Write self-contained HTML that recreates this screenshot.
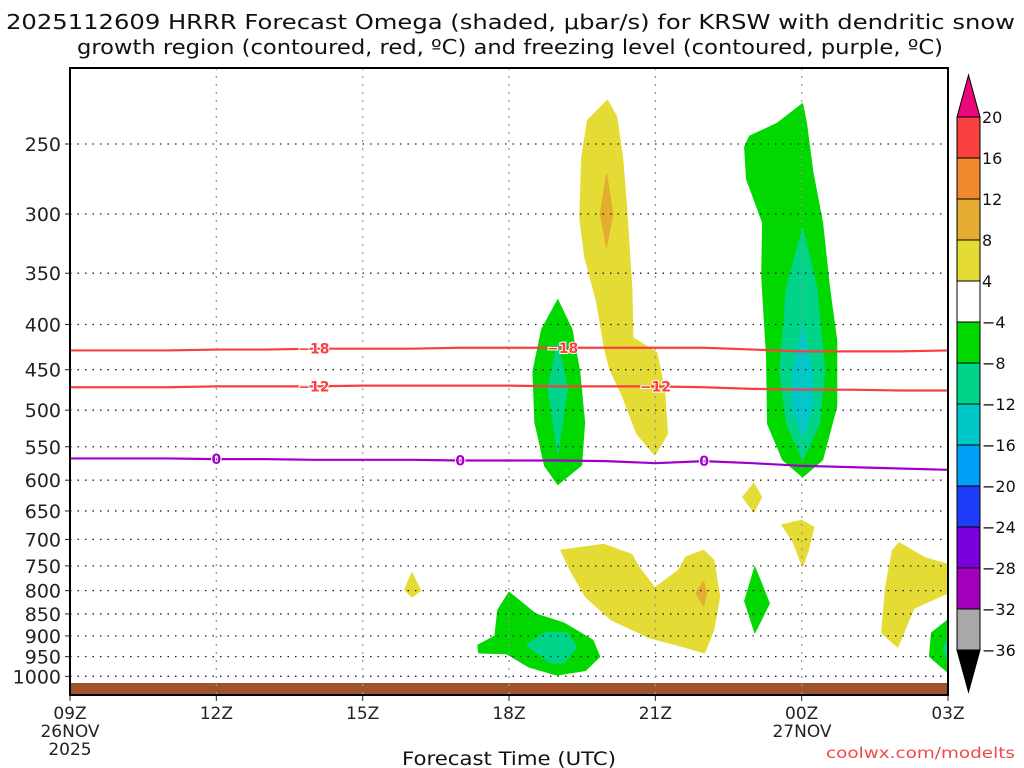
<!DOCTYPE html>
<html><head><meta charset="utf-8">
<style>
html,body{margin:0;padding:0;background:#fff;}
svg{display:block;font-family:"DejaVu Sans","Liberation Sans",sans-serif;}
</style></head>
<body>
<svg id="chart" width="1024" height="768" viewBox="0 0 1024 768" xmlns="http://www.w3.org/2000/svg">
<rect x="0" y="0" width="1024" height="768" fill="#fff"/>
<g font-size="20" fill="#111">
<text x="6" y="29" textLength="1009" lengthAdjust="spacingAndGlyphs">2025112609 HRRR Forecast Omega (shaded, μbar/s) for KRSW with dendritic snow</text>
<text x="77" y="54" textLength="866" lengthAdjust="spacingAndGlyphs">growth region (contoured, red, ºC) and freezing level (contoured, purple, ºC)</text>
</g>
<g id="shade"></g>
<g id="grid"></g>
<g id="lines"></g>
<g id="axes"></g>
<g id="cbar"></g>
<text x="402" y="765" font-size="19" fill="#111" textLength="214" lengthAdjust="spacingAndGlyphs">Forecast Time (UTC)</text>
<text x="826" y="758" font-size="15" fill="#f04848" textLength="189" lengthAdjust="spacingAndGlyphs">coolwx.com/modelts</text>
</svg>
<script>
// ---- data ----
const xTickLabels = ["09Z","12Z","15Z","18Z","21Z","00Z","03Z"];
const xTickHours = [0,3,6,9,12,15,18];
const pressureTicks = [250,300,350,400,450,500,550,600,650,700,750,800,850,900,950,1000];
const lineHours = [0,1,2,3,4,5,6,7,8,9,10,11,12,13,14,15,16,17,18];
const minus18 = [428,428,428,427,427,426,426,426,425,425,425,425,425,425,427,429,429,429,428];
const minus12 = [471,471,471,470,470,470,469,469,469,469,470,470,470,471,473,474,474,475,475];
const zeroLine = [567,567,567,568,568,569,569,569,570,570,570,571,574,571,574,578,580,582,584];
const cbarLevels = ["20","16","12","8","4","−4","−8","−12","−16","−20","−24","−28","−32","−36"];
const cbarColors = ["#f84040","#f0882c","#e4ac30","#e4dc34","#ffffff","#00d800","#00d488","#00c8c8","#00a0f8","#1c3cf8","#7800dc","#a400bc","#a8a8a8"];
// shaded regions: [color, [[hour, pressure], ...]]
const regions = [
 ["#e4dc34",[[11.02,223],[10.61,235],[10.49,259],[10.45,303],[10.55,335],[10.8,378],[10.96,427],[11.07,450],[11.33,483],[11.62,532],[11.99,562],[12.25,532],[12.19,474],[12.03,430],[11.54,414],[11.52,365],[11.41,294],[11.33,259],[11.21,233]]],
 ["#e4ac30",[[11.0,270],[11.13,300],[11.0,327],[10.87,300]]],
 ["#00d800",[[10.0,375],[9.67,405],[9.49,452],[9.53,516],[9.73,578],[10.0,607],[10.49,577],[10.55,516],[10.45,452],[10.29,405]]],
 ["#00d488",[[10.0,419],[9.8,472],[10.0,560],[10.2,472]]],
 ["#00d800",[[15.02,225],[14.49,237],[13.93,245],[13.83,252],[13.87,274],[14.2,307],[14.18,353],[14.28,435],[14.3,518],[14.61,569],[15.02,595],[15.43,569],[15.72,495],[15.72,417],[15.57,363],[15.43,307],[15.23,269],[15.1,237]]],
 ["#00d488",[[15.02,311],[14.69,363],[14.55,452],[14.69,518],[15.02,569],[15.37,518],[15.47,452],[15.31,363]]],
 ["#00c8c8",[[15.02,403],[14.82,452],[14.8,495],[15.02,536],[15.23,495],[15.23,452]]],
 ["#e4dc34",[[14.02,605],[13.79,627],[14.02,652],[14.18,627]]],
 ["#e4dc34",[[14.59,674],[15.0,666],[15.25,678],[15.14,719],[15.02,752],[14.82,704]]],
 ["#e4dc34",[[7.01,763],[6.86,798],[7.01,813],[7.19,800]]],
 ["#e4dc34",[[10.06,720],[10.94,709],[11.52,728],[11.66,752],[11.99,794],[12.48,758],[12.62,733],[12.99,720],[13.2,739],[13.32,813],[13.2,886],[13.01,941],[12.48,923],[11.89,905],[11.09,863],[10.57,813],[10.25,758]]],
 ["#e4ac30",[[12.99,781],[12.83,805],[12.99,833],[13.05,805]]],
 ["#00d800",[[14.04,752],[13.83,822],[14.04,893],[14.34,827]]],
 ["#00d800",[[9.0,803],[8.77,841],[8.71,900],[8.36,922],[8.38,941],[8.95,943],[9.41,976],[9.98,997],[10.57,985],[10.86,950],[10.72,910],[10.12,870],[9.55,850]]],
 ["#00d488",[[9.36,922],[9.75,891],[10.2,893],[10.39,927],[10.12,966],[9.84,966]]],
 ["#e4dc34",[[17.0,706],[16.86,720],[16.72,792],[16.64,893],[16.97,927],[17.3,838],[18.0,805],[18.0,747],[17.52,734]]],
 ["#00d800",[[18.0,863],[17.66,893],[17.62,950],[18.0,990]]],
 ["#00d488",[[18.0,905],[17.9,930],[18.0,960]]]
];
// ---- axes ----
const L=70,R=948,T=68,B=695;
function xOf(h){return L+(R-L)*h/18;}
function yOf(p){return 144+384*Math.log(p/250);}
const NS="http://www.w3.org/2000/svg";
function mk(tag,attrs,parent){const e=document.createElementNS(NS,tag);for(const k in attrs)e.setAttribute(k,attrs[k]);parent.appendChild(e);return e;}
const shade=document.getElementById('shade'),grid=document.getElementById('grid'),lines=document.getElementById('lines'),axes=document.getElementById('axes'),cbar=document.getElementById('cbar');
regions.forEach((r,i)=>{
 const pts=r[1].map(d=>Math.min(xOf(d[0]),R)+","+yOf(d[1])).join(" ");
 const e=mk('polygon',{points:pts,fill:r[0],stroke:r[0],"stroke-width":1,"stroke-linejoin":"round"},shade);
 
 
});
// ground
const g=mk('rect',{x:L,y:683,width:R-L,height:B-683,fill:"#a0522d"},shade);


// grid
pressureTicks.forEach(p=>{
 const y=yOf(p);
 const e=mk('line',{x1:L,x2:R,y1:y,y2:y,stroke:"#222","stroke-width":1.3,"stroke-dasharray":"1.5,6"},grid);
 
 
 mk('line',{x1:L-5,x2:L,y1:y,y2:y,stroke:"#222"},axes);
 const t=mk('text',{x:L-9,y:y+7,"font-size":19,fill:"#222","text-anchor":"end"},axes);
 t.textContent=p;
 
 
});
xTickHours.forEach((h,i)=>{
 const x=xOf(h);
 if(i>0&&i<6){const e=mk('line',{x1:x,x2:x,y1:T,y2:B,stroke:"#999","stroke-width":1.3,"stroke-dasharray":"2,6"},grid);
 
 }
 mk('line',{x1:x,x2:x,y1:B,y2:B+6,stroke:"#222"},axes);
 const t=mk('text',{x:x,y:719,"font-size":17,fill:"#222","text-anchor":"middle"},axes);
 t.textContent=xTickLabels[i];
 
 
});
[["26NOV",70,737],["2025",70,755],["27NOV",802,737]].forEach(d=>{
 const t=mk('text',{x:d[1],y:d[2],"font-size":17,fill:"#222","text-anchor":"middle"},axes);
 t.textContent=d[0];
 
 
});
mk('rect',{x:L,y:T,width:R-L,height:B-T,fill:"none",stroke:"#000","stroke-width":2},axes);
// contour lines
function drawLine(vals,color,name,labels,lab){
 const d=lineHours.map((h,i)=>(i?"L":"M")+xOf(h)+","+yOf(vals[i])).join(" ");
 const e=mk('path',{d:d,fill:"none",stroke:color,"stroke-width":2.2},lines);
 
 
 labels.forEach(h=>{
  const i=Math.round(h);const y=yOf(vals[i]);const x=xOf(h);
  const t=mk('text',{x:x,y:y+5,"font-size":14,"font-weight":"bold",fill:color,"text-anchor":"middle",stroke:"#fff","stroke-width":2,"paint-order":"stroke"},lines);
  t.textContent=lab;
  
  
 });
}
drawLine(minus18,"#f84040","minus18-contour",[5,10.1],"−18");
drawLine(minus12,"#f84040","minus12-contour",[5,12],"−12");
drawLine(zeroLine,"#a000c8","freezing-level-contour",[3,8,13],"0");
// colorbar
const cx=957,cw=23,ct=117,ch=41;
cbarColors.forEach((c,i)=>{
 const e=mk('rect',{x:cx,y:ct+i*ch,width:cw,height:ch,fill:c,stroke:"#000","stroke-width":1},cbar);
 
 
});
const up=mk('polygon',{points:`${cx},${ct} ${cx+cw},${ct} ${cx+cw/2},${ct-42}`,fill:"#e8087c",stroke:"#000"},cbar);


const yb=ct+13*ch;
const dn=mk('polygon',{points:`${cx},${yb} ${cx+cw},${yb} ${cx+cw/2},${yb+42}`,fill:"#000",stroke:"#000"},cbar);


cbarLevels.forEach((l,i)=>{
 const t=mk('text',{x:982,y:ct+i*ch+6,"font-size":16,fill:"#111"},cbar);
 t.textContent=l;
 
 
});
</script>
</body></html>
